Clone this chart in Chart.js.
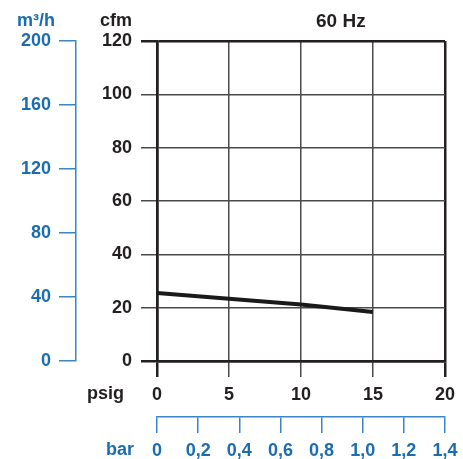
<!DOCTYPE html>
<html>
<head>
<meta charset="utf-8">
<script src="https://cdn.jsdelivr.net/npm/chart.js@4/dist/chart.umd.min.js"></script>
<style>
  html, body { margin: 0; padding: 0; background: #fff; }
  #wrap { width: 463px; height: 459px; }
</style>
</head>
<body>
<div id="wrap"><canvas id="flowChart" width="463" height="459"></canvas></div>
<script>
// pressure (psig) vs air flow (cfm), 60 Hz curve
const psigValues = [0, 5, 10, 15];
const cfmValues = [25.5, 23.3, 21.2, 18.4];
const barTickLabels = ['0', '0,2', '0,4', '0,6', '0,8', '1,0', '1,2', '1,4'];

const BLACK = '#231f20';
const GRID = '#4a4a4a';
const BLUE = '#1b6cb2';
const BLUE_LINE = '#3a85c6';
const FONT = { family: 'Arial, "Liberation Sans", sans-serif', size: 18, weight: 'bold' };

function edgeWidth(max) {
  return ctx => (ctx.tick && (ctx.tick.value === 0 || ctx.tick.value === max)) ? 2.5 : 1.5;
}
function edgeColor(max) {
  return ctx => (ctx.tick && (ctx.tick.value === 0 || ctx.tick.value === max)) ? BLACK : GRID;
}

const labelsPlugin = {
  id: 'axisNames',
  afterDraw(chart) {
    const c = chart.ctx;
    const { x, y, y2, x2 } = chart.scales;
    c.save();
    c.font = 'bold 18px Arial, "Liberation Sans", sans-serif';
    c.textBaseline = 'middle';
    c.textAlign = 'right';
    c.fillStyle = BLACK;
    c.fillText('cfm', y.right - 25, 21);
    c.fillText('psig', x.left - 33, 394);
    c.fillStyle = BLUE;
    c.fillText('m³/h', y2.right - 21, 21);
    c.fillText('bar', x2.left - 23, 450);
    c.fillStyle = BLACK;
    c.textAlign = 'left';
    c.font = 'bold 19px Arial, "Liberation Sans", sans-serif';
    c.fillText('60 Hz', 316, 22);
    c.restore();
  }
};

new Chart(document.getElementById('flowChart').getContext('2d'), {
  type: 'line',
  data: {
    datasets: [{
      label: '60 Hz',
      data: psigValues.map((p, i) => ({ x: p, y: cfmValues[i] })),
      borderColor: '#1a1a1a',
      borderWidth: 4,
      pointRadius: 0,
      tension: 0,
      xAxisID: 'x',
      yAxisID: 'y'
    }]
  },
  options: {
    responsive: false,
    animation: false,
    layout: { padding: { top: 41, right: 18, left: 0, bottom: 0 } },
    plugins: { legend: { display: false }, tooltip: { enabled: false } },
    scales: {
      x: {
        type: 'linear', position: 'bottom', weight: 0,
        min: 0, max: 20,
        ticks: { stepSize: 5, color: BLACK, font: FONT, padding: 7, maxRotation: 0 },
        grid: { color: edgeColor(20), lineWidth: edgeWidth(20), tickLength: 16, tickColor: edgeColor(20), tickWidth: edgeWidth(20) },
        border: { color: BLACK, width: 2.5 },
        afterFit: s => { s.height = 56; s.paddingRight = 0; }
      },
      x2: {
        type: 'linear', position: 'bottom', weight: 1,
        min: 0, max: 1.4,
        ticks: { stepSize: 0.2, color: BLUE, font: FONT, padding: 7, maxRotation: 0,
          callback: (v, i) => barTickLabels[i] },
        grid: { drawOnChartArea: false, tickLength: 16, tickColor: BLUE_LINE, lineWidth: 1.5 },
        border: { color: BLUE_LINE, width: 1.5 },
        afterFit: s => { s.height = 42; s.paddingRight = 0; }
      },
      y: {
        type: 'linear', position: 'left', weight: 0,
        min: 0, max: 120,
        ticks: { stepSize: 20, color: BLACK, font: FONT, padding: 9 },
        grid: { color: edgeColor(120), lineWidth: edgeWidth(120), tickLength: 16, tickColor: edgeColor(120), tickWidth: edgeWidth(120) },
        border: { color: BLACK, width: 2.5 },
        afterFit: s => { s.width = 81; }
      },
      y2: {
        type: 'linear', position: 'left', weight: 1,
        min: 0, max: 200,
        ticks: { stepSize: 40, color: BLUE, font: FONT, padding: 8 },
        grid: { drawOnChartArea: false, tickLength: 17, tickColor: BLUE_LINE, lineWidth: 1.5 },
        border: { color: BLUE_LINE, width: 1.5 },
        afterFit: s => { s.width = 76; }
      }
    }
  },
  plugins: [labelsPlugin]
});
</script>
</body>
</html>
